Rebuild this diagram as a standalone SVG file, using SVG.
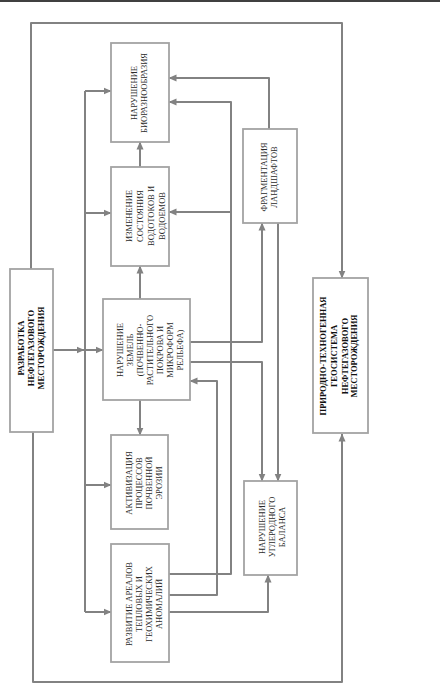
<svg xmlns="http://www.w3.org/2000/svg" width="441" height="685" viewBox="0 0 441 685">
<style>
  .box { fill: #ffffff; stroke: #a3a3a3; stroke-width: 1.8; }
  .shadow { fill: none; stroke: #d9d9d9; stroke-width: 1; }
  .t { font-family: "Liberation Serif", "Times New Roman", serif; font-size: 8.5px; fill: #2a2a2a; text-anchor: middle; }
  .b { font-weight: bold; fill: #111; }
  .c { fill: none; stroke: #828282; stroke-width: 2; stroke-linejoin: round; }
  .ca { fill: none; stroke: #828282; stroke-width: 2; stroke-linejoin: round; marker-end: url(#ah); }
</style>
<defs>
  <marker id="ah" markerUnits="userSpaceOnUse" markerWidth="9" markerHeight="8" refX="7.5" refY="4" orient="auto">
    <path d="M0,0.5 L8,4 L0,7.5 z" fill="#828282"/>
  </marker>
</defs>
<rect x="0" y="0" width="441" height="685" fill="#ffffff"/>
<line x1="0" y1="1" x2="440" y2="1" stroke="#000" stroke-width="1.5"/>

<g id="connectors">
  <path class="ca" d="M31,269 V23 H342 V278"/>
  <path class="ca" d="M33,432 V682 H342 V434"/>
  <path class="ca" d="M53,350 H84"/>
  <path class="c" d="M85,612 V91"/>
  <path class="ca" d="M85,91 H111"/>
  <path class="ca" d="M85,213 H111"/>
  <path class="ca" d="M85,350 H103"/>
  <path class="ca" d="M85,485 H111"/>
  <path class="ca" d="M85,612 H111"/>
  <path class="ca" d="M140,167 V142"/>
  <path class="ca" d="M140,299 V266"/>
  <path class="ca" d="M140,400 V435"/>
  <path class="ca" d="M269,129 V78 H169"/>
  <path class="ca" d="M169,574 H231 V102 H169"/>
  <path class="ca" d="M231,212 H169"/>
  <path class="ca" d="M169,595 H217 V381 H190"/>
  <path class="ca" d="M169,612 H268 V575"/>
  <path class="ca" d="M190,342 H262 V223"/>
  <path class="ca" d="M190,362 H262 V481"/>
  <path class="ca" d="M278,223 V481"/>
</g>

<g id="razrabotka">
  <rect class="box" x="10" y="269" width="43" height="163"/>
  <g transform="translate(31,348) rotate(-90)">
    <text class="t b" x="0" y="-7">РАЗРАБОТКА</text>
    <text class="t b" x="0" y="3">НЕФТЕГАЗОВОГО</text>
    <text class="t b" x="0" y="13">МЕСТОРОЖДЕНИЯ</text>
  </g>
</g>

<g id="bioraznoobrazie">
  <rect class="box" x="111" y="43" width="58" height="99"/>
  <g transform="translate(139,93) rotate(-90)">
    <text class="t" x="0" y="-2">НАРУШЕНИЕ</text>
    <text class="t" x="0" y="8">БИОРАЗНООБРАЗИЯ</text>
  </g>
</g>

<g id="izmenenie">
  <rect class="box" x="111" y="167" width="58" height="99"/>
  <g transform="translate(144,216) rotate(-90)">
    <text class="t" x="0" y="-12.5">ИЗМЕНЕНИЕ</text>
    <text class="t" x="0" y="-1.5">СОСТОЯНИЯ</text>
    <text class="t" x="0" y="9.5">ВОДОТОКОВ И</text>
    <text class="t" x="0" y="20.5">ВОДОЕМОВ</text>
  </g>
</g>

<g id="narushenie-zemel">
  <rect class="box" x="103" y="299" width="87" height="101"/>
  <g transform="translate(150,350) rotate(-90)">
    <text class="t" x="0" y="-27">НАРУШЕНИЕ</text>
    <text class="t" x="0" y="-17">ЗЕМЕЛЬ</text>
    <text class="t" x="0" y="-7">(ПОЧВЕННО-</text>
    <text class="t" x="0" y="3">РАСТИТЕЛЬНОГО</text>
    <text class="t" x="0" y="13">ПОКРОВА И</text>
    <text class="t" x="0" y="23">МИКРОФОРМ</text>
    <text class="t" x="0" y="33">РЕЛЬЕФА)</text>
  </g>
</g>

<g id="aktivizaciya">
  <rect class="box" x="111" y="435" width="57" height="94"/>
  <g transform="translate(144,483) rotate(-90)">
    <text class="t" x="0" y="-12">АКТИВИЗАЦИЯ</text>
    <text class="t" x="0" y="-2">ПРОЦЕССОВ</text>
    <text class="t" x="0" y="8">ПОЧВЕННОЙ</text>
    <text class="t" x="0" y="18">ЭРОЗИИ</text>
  </g>
</g>

<g id="razvitie">
  <rect class="box" x="111" y="544" width="58" height="118"/>
  <g transform="translate(144,604) rotate(-90)">
    <text class="t" x="0" y="-12">РАЗВИТИЕ АРЕАЛОВ</text>
    <text class="t" x="0" y="-2">ТЕПЛОВЫХ И</text>
    <text class="t" x="0" y="8">ГЕОХИМИЧЕСКИХ</text>
    <text class="t" x="0" y="18">АНОМАЛИЙ</text>
  </g>
</g>

<g id="fragmentaciya">
  <rect class="box" x="243" y="129" width="54" height="94"/>
  <g transform="translate(269,177) rotate(-90)">
    <text class="t" x="0" y="-2">ФРАГМЕНТАЦИЯ</text>
    <text class="t" x="0" y="8">ЛАНДШАФТОВ</text>
  </g>
</g>

<g id="uglerod">
  <rect class="box" x="244" y="481" width="53" height="94"/>
  <g transform="translate(272,527) rotate(-90)">
    <text class="t" x="0" y="-7">НАРУШЕНИЕ</text>
    <text class="t" x="0" y="3">УГЛЕРОДНОГО</text>
    <text class="t" x="0" y="13">БАЛАНСА</text>
  </g>
</g>

<g id="geosistema">
  <rect class="box" x="313" y="278" width="55" height="155"/>
  <g transform="translate(338,356) rotate(-90)">
    <text class="t b" x="0" y="-12">ПРИРОДНО-ТЕХНОГЕННАЯ</text>
    <text class="t b" x="0" y="-1">ГЕОСИСТЕМА</text>
    <text class="t b" x="0" y="10">НЕФТЕГАЗОВОГО</text>
    <text class="t b" x="0" y="19">МЕСТОРОЖДЕНИЯ</text>
  </g>
</g>
</svg>
